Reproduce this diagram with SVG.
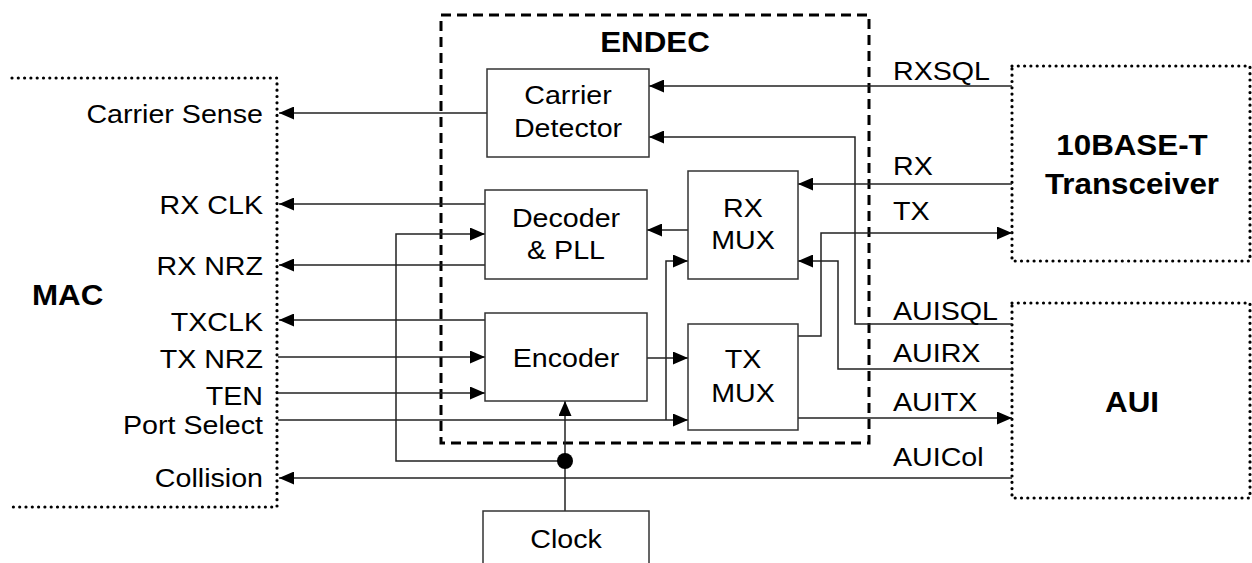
<svg xmlns="http://www.w3.org/2000/svg" width="1252" height="563" viewBox="0 0 1252 563">
<style>
.t{font-family:"Liberation Sans",Arial,sans-serif;font-size:26.5px;fill:#000}
.b{font-family:"Liberation Sans",Arial,sans-serif;font-size:29px;font-weight:bold;fill:#000}
.e{text-anchor:end}
.m{text-anchor:middle}
.box{fill:#fff;stroke:#333;stroke-width:1.5}
.dot{fill:none;stroke:#000;stroke-width:3.2;stroke-dasharray:0 6.3;stroke-linecap:round}
.dash{fill:none;stroke:#000;stroke-width:3;stroke-dasharray:10 6}
.c{fill:none;stroke:#222;stroke-width:1.5}
</style>
<defs>
<marker id="ah" markerUnits="userSpaceOnUse" markerWidth="15" markerHeight="13" refX="15" refY="6.5" orient="auto">
<path d="M0,0 L15,6.5 L0,13 z" fill="#000"/>
</marker>
</defs>
<g id="mac">
<path class="dot" d="M12,78 H277 V507 H12"/>
<text class="b" transform="translate(32 0) scale(1.08 1)" x="0" y="305">MAC</text>
<g transform="translate(263 0) scale(1.08 1)">
<text class="t e" x="0" y="123">Carrier Sense</text>
<text class="t e" x="0" y="214">RX CLK</text>
<text class="t e" x="0" y="275">RX NRZ</text>
<text class="t e" x="0" y="331">TXCLK</text>
<text class="t e" x="0" y="368">TX NRZ</text>
<text class="t e" x="0" y="405">TEN</text>
<text class="t e" x="0" y="434">Port Select</text>
<text class="t e" x="0" y="487">Collision</text>
</g>
</g>
<g id="endec">
<rect class="dash" x="441" y="15" width="428" height="428"/>
<text class="b m" transform="translate(655 0) scale(1.08 1)" x="0" y="52">ENDEC</text>
</g>
<g id="transceiver">
<rect class="dot" x="1012" y="66" width="238" height="195"/>
<g transform="translate(1132 0) scale(1.08 1)">
<text class="b m" x="0" y="155">10BASE-T</text>
<text class="b m" x="0" y="194">Transceiver</text>
</g>
</g>
<g id="aui">
<rect class="dot" x="1012" y="303" width="238" height="195"/>
<text class="b m" transform="translate(1132 0) scale(1.08 1)" x="0" y="412">AUI</text>
</g>
<g id="connectors">
<path class="c" d="M487,113 H279" marker-end="url(#ah)"/>
<path class="c" d="M1012,86 H649" marker-end="url(#ah)"/>
<path class="c" d="M1012,324 H855 V137 H649" marker-end="url(#ah)"/>
<path class="c" d="M1012,184 H798" marker-end="url(#ah)"/>
<path class="c" d="M688,230 H647" marker-end="url(#ah)"/>
<path class="c" d="M485,204 H279" marker-end="url(#ah)"/>
<path class="c" d="M485,265 H279" marker-end="url(#ah)"/>
<path class="c" d="M565,461 H396 V234 H485" marker-end="url(#ah)"/>
<path class="c" d="M485,320 H279" marker-end="url(#ah)"/>
<path class="c" d="M278,357 H485" marker-end="url(#ah)"/>
<path class="c" d="M278,393 H485" marker-end="url(#ah)"/>
<path class="c" d="M278,420 H688" marker-end="url(#ah)"/>
<path class="c" d="M666,420 V261 H688" marker-end="url(#ah)"/>
<path class="c" d="M647,358 H688" marker-end="url(#ah)"/>
<path class="c" d="M565,511 V401" marker-end="url(#ah)"/>
<path class="c" d="M1012,478 H279" marker-end="url(#ah)"/>
<path class="c" d="M798,336 H821 V233 H1012" marker-end="url(#ah)"/>
<path class="c" d="M1012,369 H838 V261 H798" marker-end="url(#ah)"/>
<path class="c" d="M798,418 H1012" marker-end="url(#ah)"/>
<circle cx="565" cy="461" r="8" fill="#000"/>
</g>
<g id="carrier-detector">
<rect class="box" x="487" y="69" width="162" height="88"/>
<g transform="translate(568 0) scale(1.08 1)">
<text class="t m" x="0" y="104">Carrier</text>
<text class="t m" x="0" y="137">Detector</text>
</g>
</g>
<g id="decoder">
<rect class="box" x="485" y="190" width="162" height="89"/>
<g transform="translate(566 0) scale(1.08 1)">
<text class="t m" x="0" y="227">Decoder</text>
<text class="t m" x="0" y="259">&amp; PLL</text>
</g>
</g>
<g id="rx-mux">
<rect class="box" x="688" y="171" width="110" height="108"/>
<g transform="translate(743 0) scale(1.08 1)">
<text class="t m" x="0" y="217">RX</text>
<text class="t m" x="0" y="249">MUX</text>
</g>
</g>
<g id="encoder">
<rect class="box" x="485" y="313" width="162" height="88"/>
<text class="t m" transform="translate(566 0) scale(1.08 1)" x="0" y="367">Encoder</text>
</g>
<g id="tx-mux">
<rect class="box" x="688" y="324" width="110" height="106"/>
<g transform="translate(743 0) scale(1.08 1)">
<text class="t m" x="0" y="368">TX</text>
<text class="t m" x="0" y="402">MUX</text>
</g>
</g>
<g id="clock">
<rect class="box" x="483" y="511" width="166" height="60"/>
<text class="t m" transform="translate(566 0) scale(1.08 1)" x="0" y="548">Clock</text>
</g>
<g id="labels" transform="translate(893 0) scale(1.08 1)">
<text class="t" x="0" y="80">RXSQL</text>
<text class="t" x="0" y="175">RX</text>
<text class="t" x="0" y="220">TX</text>
<text class="t" x="0" y="320">AUISQL</text>
<text class="t" x="0" y="362">AUIRX</text>
<text class="t" x="0" y="411">AUITX</text>
<text class="t" x="0" y="466">AUICol</text>
</g>
</svg>
